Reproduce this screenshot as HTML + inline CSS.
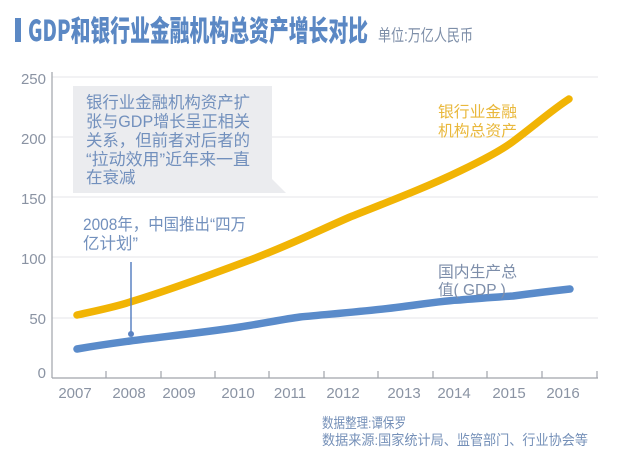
<!DOCTYPE html>
<html><head><meta charset="utf-8">
<style>
html,body{margin:0;padding:0;background:#fff;}
svg{display:block;}
text{font-family:"Liberation Sans","Noto Sans CJK SC",sans-serif;}
</style></head>
<body>
<svg width="640" height="467" viewBox="0 0 640 467" xmlns="http://www.w3.org/2000/svg">
<rect width="640" height="467" fill="#ffffff"/>
<!-- title -->
<rect x="15" y="18" width="6" height="24" fill="#5b88c4"/>
<text x="28" y="41" font-size="29" font-weight="bold" fill="#5b88c4" textLength="340" lengthAdjust="spacingAndGlyphs" style="font-family:'Noto Sans CJK SC','Liberation Sans',sans-serif;font-weight:900">GDP和银行业金融机构总资产增长对比</text>
<text x="378" y="41" font-size="16.5" fill="#7d8ea8" textLength="95" lengthAdjust="spacingAndGlyphs" style="font-family:'Liberation Sans','Noto Sans CJK SC',sans-serif">单位:万亿人民币</text>

<!-- gridlines -->
<g stroke="#e4e6ea" stroke-width="1">
<line x1="52" y1="77" x2="598" y2="77"/>
<line x1="52" y1="137" x2="598" y2="137"/>
<line x1="52" y1="197" x2="598" y2="197"/>
<line x1="52" y1="257" x2="598" y2="257"/>
<line x1="52" y1="318" x2="598" y2="318"/>
</g>
<!-- axes -->
<g stroke="#a0a4ab" stroke-width="1.2">
<line x1="52" y1="72" x2="52" y2="378"/>
<line x1="52" y1="378" x2="598" y2="378"/>
<line x1="106" y1="371" x2="106" y2="378"/>
<line x1="161" y1="371" x2="161" y2="378"/>
<line x1="215" y1="371" x2="215" y2="378"/>
<line x1="269" y1="371" x2="269" y2="378"/>
<line x1="324" y1="371" x2="324" y2="378"/>
<line x1="378" y1="371" x2="378" y2="378"/>
<line x1="433" y1="371" x2="433" y2="378"/>
<line x1="487" y1="371" x2="487" y2="378"/>
<line x1="542" y1="371" x2="542" y2="378"/>
<line x1="597" y1="371" x2="597" y2="378"/>
</g>
<!-- y labels -->
<g font-size="15" fill="#8a93a3" text-anchor="end">
<text x="46" y="84">250</text>
<text x="46" y="144">200</text>
<text x="46" y="204">150</text>
<text x="46" y="264">100</text>
<text x="46" y="324">50</text>
<text x="46" y="378">0</text>
</g>
<!-- x labels -->
<g font-size="15" fill="#8a93a3" text-anchor="middle">
<text x="75" y="398">2007</text>
<text x="129" y="398">2008</text>
<text x="179" y="398">2009</text>
<text x="238" y="398">2010</text>
<text x="290" y="398">2011</text>
<text x="343" y="398">2012</text>
<text x="404" y="398">2013</text>
<text x="454" y="398">2014</text>
<text x="509" y="398">2015</text>
<text x="563" y="398">2016</text>
</g>

<!-- bubble -->
<path d="M73 86 H272 V179 L286 193 H73 Z" fill="#ebecef"/>
<g font-size="16.5" fill="#7290bd" style="font-family:'Liberation Sans','Noto Sans CJK SC',sans-serif">
<text x="86" y="108" textLength="164" lengthAdjust="spacingAndGlyphs">银行业金融机构资产扩</text>
<text x="86" y="127" textLength="164" lengthAdjust="spacingAndGlyphs">张与GDP增长呈正相关</text>
<text x="86" y="146" textLength="164" lengthAdjust="spacingAndGlyphs">关系，但前者对后者的</text>
<text x="86" y="165" textLength="164" lengthAdjust="spacingAndGlyphs">“拉动效用”近年来一直</text>
<text x="86" y="183">在衰减</text>
</g>
<g font-size="16.5" fill="#7290bd">
<text x="83" y="230" textLength="163" lengthAdjust="spacingAndGlyphs">2008年，中国推出“四万</text>
<text x="83" y="249">亿计划”</text>
</g>

<!-- series -->
<path d="M77 315 C95 311,115 307,130 302 C160 293,210 275,250 260 C290 245,320 230,350 217 C385 203,425 188,460 171 C485 159,505 148,515 140 C535 125,552 110,569 99" fill="none" stroke="#f1b404" stroke-width="7.5" stroke-linecap="round" stroke-linejoin="round"/>
<path d="M77 349 C100 345,115 343,130 341 C160 337,200 333,240 327 C265 323,285 319,300 317 C330 314,370 311,400 307 C430 303,450 300,460 300 C480 298,500 297,513 296 C535 293,552 291,570 289" fill="none" stroke="#5a8bca" stroke-width="7.5" stroke-linecap="round" stroke-linejoin="round"/>

<!-- 2008 marker -->
<line x1="131" y1="262" x2="131" y2="334" stroke="#5a82c2" stroke-width="1.5"/>
<circle cx="131" cy="334" r="3" fill="#5a82c2"/>

<!-- series labels -->
<g font-size="15.5" fill="#e9b83c">
<text x="438" y="117" textLength="79" lengthAdjust="spacingAndGlyphs">银行业金融</text>
<text x="438" y="136" textLength="79" lengthAdjust="spacingAndGlyphs">机构总资产</text>
</g>
<g font-size="15.5" fill="#7d8eaa">
<text x="438" y="277" textLength="79" lengthAdjust="spacingAndGlyphs">国内生产总</text>
<text x="438" y="295">值( GDP )</text>
</g>

<!-- footer -->
<g font-size="14" fill="#7590b8">
<text x="322" y="428" textLength="84" lengthAdjust="spacingAndGlyphs">数据整理:谭保罗</text>
<text x="322" y="445" textLength="266" lengthAdjust="spacingAndGlyphs">数据来源:国家统计局、监管部门、行业协会等</text>
</g>
</svg>
</body></html>
